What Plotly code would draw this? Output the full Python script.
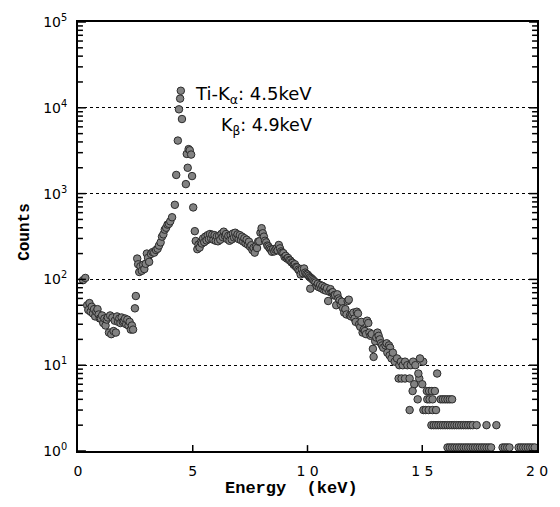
import plotly.graph_objects as go

# ---- data (energy in keV, counts) ----
e_soft = [0.22, 0.32, 0.40, 0.45, 0.50, 0.55, 0.60, 0.65, 0.70, 0.75, 0.80, 0.85, 0.90, 0.95,
          1.00, 1.05, 1.10, 1.15, 1.20, 1.25, 1.30, 1.35, 1.40, 1.45, 1.50, 1.55, 1.60, 1.65,
          1.70, 1.75, 1.80, 1.85, 1.90, 1.95, 2.00, 2.05, 2.10, 2.15, 2.20, 2.25, 2.30, 2.35,
          2.40, 2.48, 2.52]
c_soft = [98, 104, 50, 44, 53, 42, 48, 40, 45, 37, 42, 45, 39, 35,
          35, 38, 31, 35, 29, 34, 36, 24, 38, 23, 36, 25, 33, 24,
          37, 32, 35, 31, 36, 32, 33, 35, 30, 34, 29, 32, 26, 29,
          26, 46, 64]

e_rise = [2.58, 2.62, 2.67, 2.72, 2.78, 2.84, 2.89, 2.95, 3.00, 3.05, 3.10, 3.18, 3.25,
          3.32, 3.40, 3.47, 3.53, 3.60, 3.66, 3.72, 3.78, 3.84, 3.90, 3.96, 4.02]
c_rise = [175, 150, 122, 142, 126, 148, 132, 152, 200, 178, 160, 198, 208,
          205, 220, 228, 248, 270, 315, 335, 380, 400, 435, 445, 475]

e_peak = [4.10, 4.22, 4.28, 4.35, 4.40, 4.45, 4.48, 4.53, 4.70, 4.74, 4.78, 4.82, 4.87,
          4.93, 4.97, 5.02, 5.09, 5.13]
c_peak = [530, 740, 1650, 4150, 9600, 12800, 15800, 7400, 1290, 2900, 2000, 3300, 3200,
          2850, 1600, 690, 365, 280]

e_cont = [5.20, 5.25, 5.30, 5.35, 5.40, 5.45, 5.50, 5.55, 5.60, 5.65, 5.70, 5.75, 5.80,
          5.85, 5.90, 5.95, 6.00, 6.05, 6.10, 6.15, 6.20, 6.25, 6.30, 6.35, 6.40, 6.45,
          6.50, 6.55, 6.60, 6.65, 6.70, 6.75, 6.80, 6.85, 6.90, 6.95, 7.00, 7.05, 7.10,
          7.15, 7.20, 7.25, 7.30, 7.35, 7.40, 7.45, 7.50, 7.55, 7.60, 7.65, 7.70, 7.75,
          7.80, 7.85, 7.90, 7.95, 8.00, 8.05, 8.10, 8.15, 8.20, 8.25, 8.30, 8.35, 8.40,
          8.45, 8.50, 8.55, 8.60, 8.65, 8.70, 8.75, 8.80, 8.85, 8.90, 8.95, 9.00, 9.05,
          9.10, 9.15, 9.20, 9.25, 9.30, 9.35, 9.40, 9.45, 9.50, 9.55, 9.60, 9.65, 9.70,
          9.75, 9.80, 9.85, 9.90, 9.95, 10.00, 10.05, 10.10, 10.15, 10.20, 10.25, 10.30]
c_cont = [225, 255, 235, 270, 262, 300, 272, 315, 285, 328, 295, 338, 300,
          332, 290, 328, 282, 318, 278, 322, 290, 340, 312, 360, 322, 338,
          295, 322, 282, 328, 292, 342, 308, 350, 312, 335, 295, 328, 288,
          315, 276, 302, 264, 290, 254, 275, 240, 250, 220, 234, 205, 242,
          232, 276, 278, 350, 395, 345, 315, 282, 270, 248, 242, 230, 222,
          210, 225, 212, 222, 230, 218, 252, 230, 212, 205, 202, 183, 188,
          175, 178, 168, 166, 158, 156, 148, 150, 140, 138, 130, 126, 114,
          132, 118, 134, 120, 116, 114, 110, 106, 104, 101, 98, 95]

e_fall = [10.12, 10.35, 10.40, 10.45, 10.50, 10.55, 10.60, 10.65, 10.70, 10.75, 10.80,
          10.85, 10.90, 10.95, 11.00, 11.05, 11.10, 11.15, 11.20, 11.25, 11.30, 11.35,
          11.40, 11.45, 11.50, 11.55, 11.60, 11.65, 11.70, 11.75, 11.80, 11.85, 11.90,
          11.95, 12.00, 12.05, 12.10, 12.15, 12.20, 12.25, 12.30, 12.35, 12.40, 12.45,
          12.50, 12.55, 12.60, 12.65, 12.70, 12.75, 12.80, 12.85, 12.88, 12.95, 13.00,
          13.05, 13.10, 13.15, 13.20, 13.25, 13.30, 13.40, 13.45, 13.55, 13.60]
c_fall = [78, 92, 84, 89, 81, 86, 79, 84, 76, 81, 74,
          79, 56, 72, 77, 70, 71, 65, 66, 50, 67, 60,
          57, 51, 55, 46, 41, 45, 39, 56, 58, 38, 37,
          39, 41, 35, 32, 42, 40, 30, 28, 32, 24, 26,
          25, 23, 33, 31, 24, 22, 23, 15.5, 12.5, 19, 21,
          24, 22, 20, 18, 17, 16, 17, 18, 17, 16]

e_tail = [13.48, 13.58, 13.66, 13.72, 13.80, 13.90, 14.00, 14.07, 14.15, 14.25, 14.35,
          14.50, 14.60, 14.70, 13.97, 14.10, 14.25, 14.45, 14.87, 14.83, 15.65, 14.65,
          15.00, 14.58, 15.20, 15.30, 15.42, 15.55, 14.80, 15.22, 15.32, 15.45, 15.80,
          15.90, 16.00, 16.10, 16.20, 16.30, 14.45, 15.05, 15.15, 15.28, 15.45, 15.60,
          15.04, 14.90]
c_tail = [14, 13, 12, 14, 11, 12, 10, 11, 10, 11, 10,
          10, 11, 10, 7, 7, 7, 7, 7, 8, 8, 6,
          6, 5, 5, 5, 5, 5, 4, 4, 4, 4, 4,
          4, 4, 4, 4, 4, 3, 3, 3, 3, 3, 3,
          11, 12]

e_two = [15.40, 15.50, 15.60, 15.70, 15.80, 15.90, 16.00, 16.10, 16.20, 16.30, 16.40,
         16.50, 16.60, 16.70, 16.80, 16.90, 17.00, 17.10, 17.20, 17.37, 17.80, 18.23]
c_two = [2] * 22

e_one = [16.10, 16.20, 16.30, 16.40, 16.50, 16.60, 16.70, 16.80, 16.90, 17.00, 17.10,
         17.20, 17.30, 17.40, 17.50, 17.60, 17.70, 17.80, 17.90, 18.00, 18.50, 18.60,
         18.70, 18.80, 19.20, 19.30, 19.40, 19.50, 19.60, 19.70, 19.80, 19.90]
c_one = [1.1] * 32

energy = e_soft + e_rise + e_peak + e_cont + e_fall + e_tail + e_two + e_one
counts = c_soft + c_rise + c_peak + c_cont + c_fall + c_tail + c_two + c_one

x_ticks = [0, 5, 10, 15, 20]
x_ticktext = ["0", "5", "1 0", "1 5", "2 0"]
y_ticks = [1, 10, 100, 1000, 10000, 100000]
y_ticktext = ["10<sup>0</sup>", "10<sup>1</sup>", "10<sup>2</sup>",
              "10<sup>3</sup>", "10<sup>4</sup>", "10<sup>5</sup>"]
minor_vals = [m * 10 ** d for d in range(0, 5) for m in range(2, 10)]

fig = go.Figure()
fig.add_trace(go.Scatter(
    x=energy, y=counts, mode="markers",
    marker=dict(size=7.5, color="#828282", line=dict(width=1, color="#2b2b2b")),
    showlegend=False, cliponaxis=False,
))

# tick marks on the inner side of the left and right frame (axis decoration)
PW = 464.0
tick_shapes = []
for v in minor_vals:
    for x0, x1 in ((0, 5 / PW), (1 - 5 / PW, 1)):
        tick_shapes.append(dict(type="line", xref="paper", yref="y",
                                x0=x0, x1=x1, y0=v, y1=v,
                                line=dict(color="black", width=1.5), layer="above"))
for v in y_ticks:
    for x0, x1 in ((0, 8 / PW), (1 - 8 / PW, 1)):
        tick_shapes.append(dict(type="line", xref="paper", yref="y",
                                x0=x0, x1=x1, y0=v, y1=v,
                                line=dict(color="black", width=1.5), layer="above"))
for v in x_ticks[1:-1]:
    tick_shapes.append(dict(type="line", xref="x", yref="paper",
                            x0=v, x1=v, y0=0, y1=6 / 437.4,
                            line=dict(color="black", width=1.5), layer="above"))

fig.update_layout(
    width=560, height=507,
    margin=dict(l=78, r=18, t=13, b=56),
    paper_bgcolor="white", plot_bgcolor="white",
    font=dict(family="DejaVu Sans", color="black"),
    shapes=tick_shapes,
    xaxis=dict(
        range=[0, 20], tickmode="array", tickvals=x_ticks, ticktext=x_ticktext,
        ticks="", showline=True, linecolor="black", linewidth=2, mirror=True,
        showgrid=False, zeroline=False,
        tickfont=dict(family="DejaVu Sans", size=14, color="black"),
        ticklabelstandoff=6,
    ),
    yaxis=dict(
        type="log", range=[0, 5], tickmode="array", tickvals=y_ticks, ticktext=y_ticktext,
        ticks="", showline=True, linecolor="black", linewidth=2, mirror=True,
        showgrid=True, gridcolor="black", gridwidth=1, griddash="dot",
        zeroline=False,
        tickfont=dict(family="DejaVu Sans", size=14, color="black"),
        ticklabelstandoff=6,
    ),
    annotations=[
        dict(text="Ti-K<sub>α</sub>: 4.5keV", xref="paper", yref="paper",
             x=(317 - 78) / 464, y=(451 - 88) / 437.4, xanchor="right", yanchor="middle",
             showarrow=False, font=dict(family="DejaVu Sans", size=18, color="black")),
        dict(text="K<sub>β</sub>: 4.9keV", xref="paper", yref="paper",
             x=(317 - 78) / 464, y=(451 - 120) / 437.4, xanchor="right", yanchor="middle",
             showarrow=False, font=dict(family="DejaVu Sans", size=17.5, color="black")),
        dict(text="<b>Energy  (keV)</b>", xref="paper", yref="paper",
             x=(294 - 78) / 464, y=(451 - 489) / 437.4, xanchor="center", yanchor="middle",
             showarrow=False, font=dict(family="Liberation Mono", size=17, color="black")),
        dict(text="<b>Counts</b>", xref="paper", yref="paper",
             x=(25 - 78) / 464, y=(451 - 228) / 437.4, xanchor="center", yanchor="middle",
             textangle=-90, showarrow=False,
             font=dict(family="Liberation Mono", size=16, color="black")),
    ],
)

fig.write_html("out.html")
